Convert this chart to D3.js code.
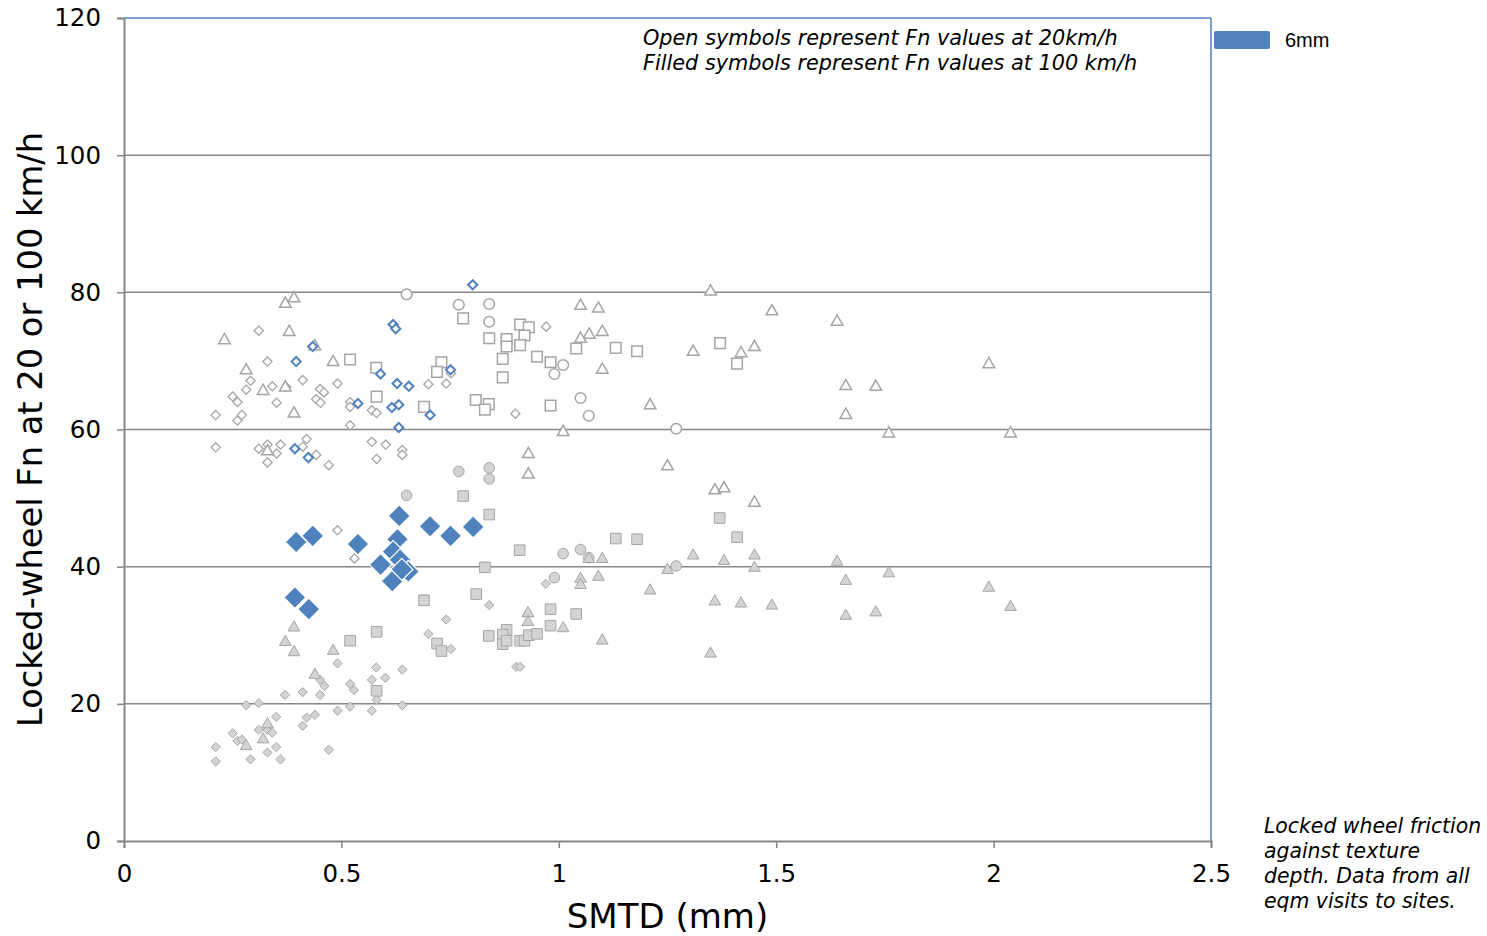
<!DOCTYPE html>
<html>
<head>
<meta charset="utf-8">
<script src="https://cdn.jsdelivr.net/npm/d3@7"></script>
<style>
  body { margin: 0; background: #fff; }
  svg { display: block; font-family: "DejaVu Sans", Verdana, sans-serif; }
</style>
</head>
<body>
<div id="chart"></div>
<script>
// SMTD (mm) vs locked-wheel Fn, [x, y] pairs
const xTicks = [0, 0.5, 1, 1.5, 2, 2.5];
const yTicks = [0, 20, 40, 60, 80, 100, 120];

// 20 km/h (open symbols)
const openDiamond = [[0.310,74.4],[0.330,69.9],[0.291,67.1],[0.281,65.8],[0.250,64.8],[0.261,64.0],[0.211,62.1],[0.271,62.1],[0.261,61.3],[0.341,66.3],[0.351,63.9],[0.411,67.2],[0.373,66.2],[0.451,65.9],[0.460,65.4],[0.442,64.4],[0.452,63.9],[0.491,66.7],[0.520,64.0],[0.520,63.3],[0.520,60.6],[0.570,62.8],[0.581,62.4],[0.700,66.6],[0.741,66.7],[0.752,68.2],[0.211,57.4],[0.310,57.2],[0.330,57.8],[0.360,57.8],[0.351,56.5],[0.330,55.2],[0.420,58.6],[0.411,57.5],[0.442,56.3],[0.471,54.8],[0.570,58.2],[0.602,57.8],[0.581,55.7],[0.640,57.0],[0.640,56.3],[0.971,75.0],[0.840,73.2],[0.911,72.2],[0.900,62.3],[0.491,45.3],[0.530,41.2]];
const openSquare = [[0.520,70.2],[0.580,69.0],[0.581,64.8],[0.690,63.3],[0.730,69.8],[0.720,68.4],[0.780,76.2],[0.809,64.3],[0.840,73.3],[0.911,75.3],[0.931,74.9],[0.921,73.7],[0.880,73.2],[0.880,72.1],[0.911,72.3],[0.871,70.3],[0.950,70.6],[0.981,69.8],[1.040,71.8],[1.131,71.9],[1.180,71.4],[0.871,67.6],[0.839,63.7],[0.830,62.9],[0.981,63.5],[1.371,72.6],[1.410,69.6]];
const openCircle = [[0.650,79.7],[0.770,78.2],[0.840,78.3],[0.840,75.7],[1.010,69.4],[0.990,68.1],[1.050,64.6],[1.069,62.0],[1.270,60.1]];
const openTriangle = [[0.391,79.3],[0.371,78.5],[0.380,74.4],[0.231,73.2],[0.481,70.0],[0.281,68.8],[0.320,65.8],[0.371,66.3],[0.391,62.5],[0.330,57.0],[0.439,72.3],[1.349,80.3],[1.050,78.2],[1.091,77.8],[1.100,74.4],[1.070,74.0],[1.050,73.4],[1.100,68.9],[1.210,63.7],[1.010,59.8],[1.309,71.5],[1.419,71.3],[1.450,72.2],[1.490,77.4],[0.930,56.6],[0.930,53.6],[1.250,54.8],[1.359,51.3],[1.380,51.6],[1.450,49.5],[1.640,75.9],[1.989,69.7],[1.660,66.5],[1.729,66.4],[1.660,62.3],[1.759,59.6],[2.039,59.6]];
const open6mm = [[0.802,81.1],[0.619,75.3],[0.625,74.7],[0.434,72.1],[0.396,69.9],[0.590,68.1],[0.628,66.7],[0.655,66.3],[0.751,68.7],[0.538,63.8],[0.616,63.2],[0.632,63.6],[0.704,62.1],[0.632,60.3],[0.393,57.2],[0.424,55.9]];

// 100 km/h (filled symbols)
const fillDiamond = [[0.741,32.3],[0.700,30.2],[0.752,28.0],[0.491,25.9],[0.580,25.3],[0.570,23.5],[0.601,23.8],[0.640,25.0],[0.451,23.5],[0.461,22.6],[0.520,22.9],[0.529,22.0],[0.370,21.3],[0.411,21.7],[0.451,21.3],[0.640,19.8],[0.281,19.8],[0.310,20.1],[0.350,18.1],[0.420,18.0],[0.439,18.4],[0.491,19.0],[0.520,19.6],[0.570,19.0],[0.411,16.8],[0.310,16.2],[0.330,16.2],[0.341,15.8],[0.250,15.7],[0.261,14.6],[0.271,14.8],[0.211,13.7],[0.211,11.6],[0.291,11.9],[0.330,12.9],[0.350,13.7],[0.360,11.9],[0.471,13.3],[0.970,37.5],[0.840,34.4],[0.902,25.4],[0.911,25.4],[0.581,20.6]];
const fillSquare = [[0.780,50.3],[0.840,47.6],[0.910,42.4],[1.131,44.1],[1.180,44.0],[1.370,47.1],[1.410,44.3],[0.830,39.9],[0.810,36.0],[0.981,33.8],[1.040,33.1],[0.981,31.4],[0.839,29.9],[0.880,30.8],[0.871,30.1],[0.871,28.7],[0.880,29.2],[0.911,29.2],[0.921,29.2],[0.931,30.0],[0.950,30.2],[0.690,35.1],[0.720,28.8],[0.730,27.7],[0.520,29.2],[0.581,30.5],[0.581,21.9]];
const fillCircle = [[0.650,50.4],[0.770,53.9],[0.840,54.4],[0.840,52.8],[1.010,41.9],[1.050,42.5],[1.069,41.3],[0.990,38.4],[1.270,40.1]];
const fillTriangle = [[0.391,31.3],[0.371,29.2],[0.391,27.7],[0.481,27.9],[0.439,24.4],[0.330,17.2],[0.281,14.0],[0.320,15.0],[1.100,41.3],[1.069,41.3],[1.050,38.4],[1.050,37.5],[1.091,38.7],[1.210,36.7],[1.250,39.7],[1.309,41.8],[1.380,41.0],[1.450,41.8],[1.450,40.0],[1.359,35.1],[1.419,34.8],[0.929,33.4],[0.929,32.1],[1.010,31.2],[1.100,29.4],[1.349,27.5],[1.490,34.5],[1.640,40.9],[1.660,38.1],[1.759,39.2],[1.989,37.1],[2.039,34.3],[1.660,33.0],[1.729,33.5]];
const fill6mm = [[0.396,43.6],[0.434,44.5],[0.538,43.3],[0.633,47.4],[0.629,44.0],[0.619,42.2],[0.590,40.3],[0.635,41.0],[0.654,39.3],[0.617,37.9],[0.639,39.6],[0.704,45.9],[0.751,44.5],[0.803,45.8],[0.393,35.5],[0.425,33.8]];

const W = 1487, H = 936;
const margin = { top: 18, right: 276, bottom: 95, left: 124 };
const innerW = W - margin.left - margin.right;
const innerH = H - margin.top - margin.bottom;

const GREY = "#a5a5a5", GRID = "#878787", BLUE = "#4f81bd";

const svg = d3.select("#chart").append("svg")
  .attr("width", W).attr("height", H);
const g = svg.append("g").attr("transform", `translate(${margin.left},${margin.top})`);

const x = d3.scaleLinear().domain([0, 2.5]).range([0, innerW]);
const y = d3.scaleLinear().domain([0, 120]).range([innerH, 0]);

// gridlines
g.append("g").selectAll("line")
  .data(yTicks.filter(v => v > 0 && v < 120))
  .enter().append("line")
    .attr("x1", 0).attr("x2", innerW)
    .attr("y1", d => y(d)).attr("y2", d => y(d))
    .attr("stroke", GRID).attr("stroke-width", 1.5);

// plot frame top/right (blue)
g.append("line").attr("x1", 0).attr("x2", innerW).attr("y1", 0).attr("y2", 0)
  .attr("stroke", BLUE).attr("stroke-width", 1.5);
g.append("line").attr("x1", innerW).attr("x2", innerW).attr("y1", 0).attr("y2", innerH)
  .attr("stroke", BLUE).attr("stroke-width", 1.5);

// axes
const yAxis = g.append("g")
  .call(d3.axisLeft(y).tickValues(yTicks).tickSize(7).tickPadding(16));
const xAxis = g.append("g").attr("transform", `translate(0,${innerH})`)
  .call(d3.axisBottom(x).tickValues(xTicks).tickSize(7).tickPadding(13)
    .tickFormat(d => String(d)));
[yAxis, xAxis].forEach(a => {
  a.select(".domain").attr("stroke", GRID).attr("stroke-width", 2);
  a.selectAll(".tick line").attr("stroke", GRID).attr("stroke-width", 1.5);
  a.selectAll(".tick text").attr("fill", "#000")
    .style("font-size", "24.5px").style("font-family", "DejaVu Sans, sans-serif");
});
xAxis.selectAll(".tick text").attr("dy", "0.85em");

// axis titles
svg.append("text")
  .attr("x", margin.left + innerW / 2).attr("y", 928)
  .attr("text-anchor", "middle").style("font-size", "34px")
  .text("SMTD (mm)");
svg.append("text")
  .attr("transform", `translate(42,${margin.top + y(60)}) rotate(-90)`)
  .attr("text-anchor", "middle").style("font-size", "33.7px")
  .text("Locked-wheel Fn at 20 or 100 km/h");

// symbol paths
function shapePath(kind, r) {
  if (kind === "diamond") return `M0,${-r}L${r},0L0,${r}L${-r},0Z`;
  if (kind === "square") return `M${-r},${-r}H${r}V${r}H${-r}Z`;
  if (kind === "circle") return `M${r},0A${r},${r} 0 1,1 ${-r},0A${r},${r} 0 1,1 ${r},0Z`;
  const h = r * 0.95;
  return `M0,${-h}L${r},${h * 0.85}L${-r},${h * 0.85}Z`;
}

const series = [
  { data: openDiamond,  kind: "diamond",  r: 4.6, fill: "#fff", stroke: GREY, sw: 1.3 },
  { data: openSquare,   kind: "square",   r: 5.3, fill: "#fff", stroke: GREY, sw: 1.5 },
  { data: openCircle,   kind: "circle",   r: 5.3, fill: "#fff", stroke: GREY, sw: 1.5 },
  { data: openTriangle, kind: "triangle", r: 5.8, fill: "#fff", stroke: GREY, sw: 1.5 },
  { data: fillDiamond,  kind: "diamond",  r: 4.6, fill: "#d4d4d4", stroke: GREY, sw: 1 },
  { data: fillSquare,   kind: "square",   r: 5.3, fill: "#d4d4d4", stroke: GREY, sw: 1 },
  { data: fillCircle,   kind: "circle",   r: 5.3, fill: "#d4d4d4", stroke: GREY, sw: 1 },
  { data: fillTriangle, kind: "triangle", r: 5.8, fill: "#d4d4d4", stroke: GREY, sw: 1 },
  { data: open6mm,      kind: "diamond",  r: 4.6, fill: "#fff", stroke: BLUE, sw: 2 },
  { data: fill6mm,      kind: "diamond",  r: 11,  fill: BLUE, stroke: "#fff", sw: 1.2 }
];

series.forEach(s => {
  g.append("g").selectAll("path")
    .data(s.data)
    .enter().append("path")
      .attr("transform", d => `translate(${x(d[0])},${y(d[1])})`)
      .attr("d", shapePath(s.kind, s.r))
      .attr("fill", s.fill)
      .attr("stroke", s.stroke)
      .attr("stroke-width", s.sw);
});

// note inside plot
const note = svg.append("text").style("font-size", "20.8px")
  .style("font-style", "italic");
note.append("tspan").attr("x", 643).attr("y", 45).text("Open symbols represent Fn values at 20km/h");
note.append("tspan").attr("x", 643).attr("y", 70).text("Filled symbols represent Fn values at 100 km/h");

// legend
svg.append("rect").attr("x", 1214).attr("y", 31).attr("width", 56).attr("height", 18)
  .attr("rx", 2).attr("fill", BLUE);
svg.append("text").attr("x", 1285).attr("y", 47)
  .style("font-family", "Liberation Sans, Arial, sans-serif").style("font-size", "20px")
  .text("6mm");

// caption bottom right
const cap = ["Locked wheel friction", "against texture", "depth. Data from all", "eqm visits to sites."];
svg.append("text").style("font-size", "20.4px").style("font-style", "italic")
  .selectAll("tspan").data(cap).enter().append("tspan")
    .attr("x", 1264).attr("y", (d, i) => 833 + i * 25)
    .text(d => d);
</script>
</body>
</html>
